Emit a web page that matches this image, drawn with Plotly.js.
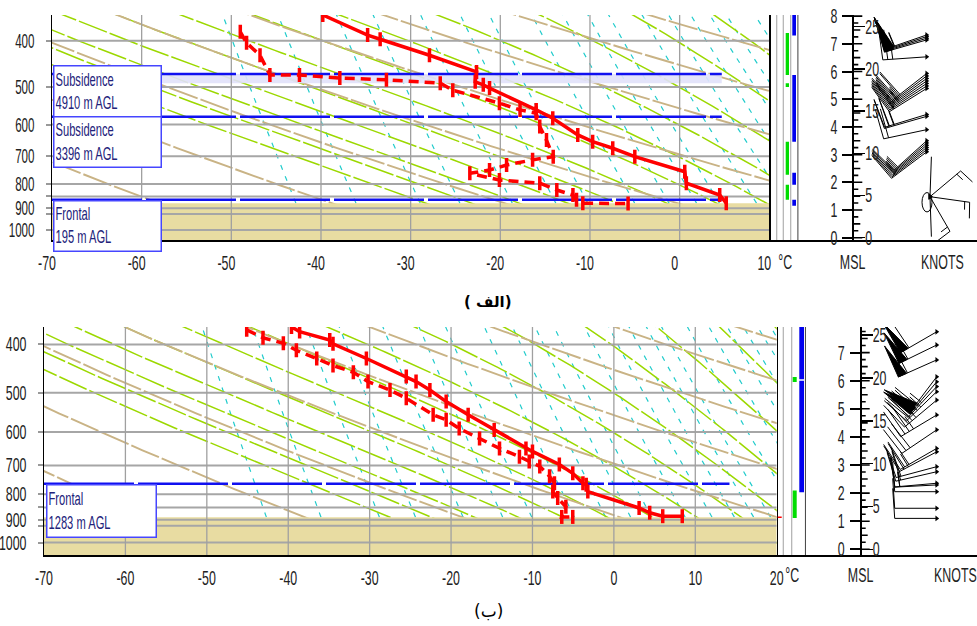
<!DOCTYPE html>
<html><head><meta charset="utf-8">
<script src="https://cdn.plot.ly/plotly-3.0.1.min.js"></script>
<style>html,body{margin:0;padding:0;background:#fff}#chart{width:977px;height:626px}</style>
</head><body><div id="chart"></div>
<script>
// ================= DATA =================
const tempTicksTop = [-70,-60,-50,-40,-30,-20,-10,0,10];
const tempTicksBot = [-70,-60,-50,-40,-30,-20,-10,0,10,20];
const pressureTicks  = [400,500,600,700,800,850,900,925,1000];
const pressureLabels = ['400','500','600','700','800','','900','','1000'];
const isobars = [400,500,600,700,800,850,900,925,1000];
const isothermsTop = [-60,-50,-40,-30,-20,-10,0];
const isothermsBot = [-60,-50,-40,-30,-20,-10,0,10];
const dryAdiabatsC = [-50,-30,-10,10,30,50,70,90,110,130];
const moistAdiabatsC = [-20,-15,-10,-5,0,5,10,15,20,25,30,35,40,45,50];
const mixingRatios = [0.1,0.2,0.4,0.6,1,1.5,2,3,4,5,6,8,10,12,14,16,20,24,28,32,36,40];
const kmTicks = [0,1,2,3,4,5,6,7,8];
const kftTicks = [0,5,10,15,20,25];

// ---- top sounding (الف) ----
const topTempP = [353,389,397,429,465,488,495,503,559,582,631,652,673,701,754,797,844,878];
const topTempC = [-39.8,-34.8,-33.4,-27.9,-22.65,-22.8,-21.9,-21.2,-16.0,-14.15,-11.36,-9.7,-7.46,-5.0,0.57,0.75,4.47,5.2];
const topDewP = [383,404,429,472,472,479,483,491,508,541,559,568,606,647,701,712,730,748,760,785,797,824,844,864,878,880];
const topDewC = [-49.0,-48.3,-46.8,-45.7,-42.4,-37.9,-32.7,-26.7,-25.3,-20.1,-17.8,-16.0,-15.6,-14.85,-14.1,-16.4,-19.3,-21.2,-23.4,-20.1,-15.6,-13.7,-11.9,-11.5,-10.8,-5.75];
const topGroundP = 878;
const topLayerTitle = ['Subsidence','Subsidence','Frontal'];
const topLayerHeight = ['4910 m AGL','3396 m AGL','195 m AGL'];
const topLayerP = [470,578,864];
const topLayerEndC = 4.7;
const topBandP = [470,491];
const topGreenBars = [[385,472],[491,500],[652,765],[803,864]];
const topBlueBars  = [[353,390],[472,652],[758,803],[864,889]];
const topWindKm  = [7.32,7.26,7.20,7.14,6.53,5.93,5.84,5.75,5.66,5.57,5.48,5.39,4.45,4.38,3.90,3.50,3.42,3.34,3.26,3.18,3.10];
const topWindDir = [251,252,253,254,266,232,233,234,235,236,237,238,253,254,258,228,229,230,231,232,233];
const topWindSpd = [55,55,50,50,25,30,30,25,25,25,20,20,25,25,20,15,15,15,15,15,15];
const topLowWindKm = 1.48;
const topLowWindDir = [2,50,98,150,178];
const topLowWindSpd = [0,15,15,15,0];

// ---- bottom sounding (ب) ----
const botTempP = [369,377,392,399,427,464,475,494,521,554,594,647,656,697,726,760,765,790,852,871,885,885];
const botTempC = [-39.6,-38.6,-34.9,-34.5,-30.4,-25.5,-24.3,-22.6,-20.6,-17.9,-14.7,-10.8,-10.0,-6.7,-5.05,-3.8,-3.4,-3.2,3.1,4.4,6.0,8.4];
const botDewP = [374,388,398,411,427,441,455,475,494,513,554,567,590,618,647,672,687,703,736,760,790,814,847,888,888];
const botDewC = [-45.1,-43.1,-40.6,-39.0,-36.5,-34.5,-32.0,-30.2,-27.5,-25.5,-22.2,-20.6,-19.0,-16.5,-14.05,-11.6,-10.4,-9.1,-7.9,-7.3,-7.5,-6.9,-5.9,-6.4,-5.05];
const botGroundP = 889;
const botLayerTitle = ['Frontal'];
const botLayerHeight = ['1283 m AGL'];
const botLayerP = [762];
const botLayerEndC = 14.2;
const botGreenBars = [[465,476],[786,892]];
const botBlueBars  = [[369,470],[473,792]];
const botWindKm  = [7.74,7.27,6.74,6.14,5.96,5.79,5.61,5.31,4.78,4.25,3.59,3.47,2.94,2.76,2.35,2.29,2.05,1.46,1.10];
const botWindDir = [240,244,246,217,220,223,226,230,239,236,240,242,255,257,265,267,270,270,270];
const botWindSpd = [60,60,55,50,50,45,45,40,35,30,25,25,20,20,15,15,10,10,10];

// ================= STYLE / GEOMETRY =================
const W=977, H=626;
const FONT = 'Liberation Sans, Arial, sans-serif';
const C_TAN='#c9b385', C_GREEN='#9cd800', C_CYAN='#22cccc', C_GRID='#a6a6a6';
const C_GROUND='#e8dca2', C_OLIVE='#808000', C_BLUE='#1010f0', C_RED='#ff0000';
const px = v => v/W, py = v => 1 - v/H;

const P1 = {x0:52, x1:769.3, y0:15, y1:240, pTop:353.0, pBot:1049.6, tMin:-70, tMax:10,
  colR:798.3, kmAx:853.3, km0:237.7, ppk:27.7, windOx:926.7, lowOx:930};
const P2 = {x0:44, x1:776.7, y0:327, y1:555, pTop:369.1, pBot:1058.9, tMin:-70, tMax:20,
  colR:805.7, kmAx:860.7, km0:549.3, ppk:28.1, windOx:936.7};

// ================= THERMO helpers =================
function pressures(){ const a=[]; for(let lp=Math.log(1120); lp>Math.log(300); lp-=0.01) a.push(Math.exp(lp)); return a; }
const PS = pressures();
function dryLine(thC){ const th=thC+273.15; return {x:PS.map(p=>th*Math.pow(p/1000,0.2857)-273.15), y:PS}; }
function moistLine(twC){
  const f=(T,p)=>{const e=6.112*Math.exp(17.67*(T-273.15)/(T-29.65)); const rs=0.622*e/(p-e);
    return (287.04*T+2.501e6*rs)/(1005.7+2.501e6*2.501e6*rs*0.622/(287.04*T*T));};
  const up=[], dn=[]; let T=twC+273.15, lp=Math.log(1000), h=-0.01;
  while(Math.exp(lp)>300){ up.push([Math.exp(lp),T]); const k1=f(T,Math.exp(lp)); const k2=f(T+h*k1,Math.exp(lp+h)); T+=h*(k1+k2)/2; lp+=h; }
  T=twC+273.15; lp=Math.log(1000); h=0.01;
  while(Math.exp(lp)<1120){ const k1=f(T,Math.exp(lp)); const k2=f(T+h*k1,Math.exp(lp+h)); T+=h*(k1+k2)/2; lp+=h; dn.push([Math.exp(lp),T]); }
  const all = dn.reverse().concat(up);
  return {x:all.map(a=>a[1]-273.15), y:all.map(a=>a[0])};
}
function mixLine(w,pg){ const ys=[],xs=[]; for(let lp=Math.log(pg); lp>Math.log(300); lp-=0.05){ const p=Math.exp(lp); const e=w*p/(622+w); const L=Math.log(e/6.112); xs.push(243.5*L/(17.67-L)); ys.push(p);} return {x:xs,y:ys}; }
function joinLines(list){ const x=[],y=[]; list.forEach(l=>{x.push(...l.x,null); y.push(...l.y,null);}); return {x,y}; }

// ================= BUILD =================
const traces=[], shapes=[], annotations=[];
const layout = {width:W,height:H,margin:{l:0,r:0,t:0,b:0},paper_bgcolor:'#fff',plot_bgcolor:'rgba(0,0,0,0)',
  showlegend:false, font:{family:FONT,size:20,color:'#222'}};

function panel(P, ax, tempTicks, isotherms, tempP,tempC, dewP,dewC, groundP, layerP, layerEndC, greenBars, blueBars, bandP){
  const xa='x'+(ax.x===1?'':ax.x), ya='y'+(ax.y===1?'':ax.y);
  const xk='xaxis'+(ax.x===1?'':ax.x), yk='yaxis'+(ax.y===1?'':ax.y);
  const T=(o)=>Object.assign({xaxis:xa,yaxis:ya,hoverinfo:'skip',showlegend:false},o);
  traces.push(T(Object.assign(joinLines(mixingRatios.map(w=>mixLine(w,groundP))),{mode:'lines',line:{color:C_CYAN,width:1.2,dash:'5px,7px'}})));
  traces.push(T(Object.assign(joinLines(moistAdiabatsC.map(moistLine)),{mode:'lines',line:{color:C_GREEN,width:1.5,dash:'30px,3px'}})));
  traces.push(T(Object.assign(joinLines(dryAdiabatsC.map(dryLine)),{mode:'lines',line:{color:C_TAN,width:1.9,dash:'30px,3px'}})));
  if(bandP) traces.push(T({x:[P.tMin,layerEndC,layerEndC,P.tMin],y:[bandP[0],bandP[0],bandP[1],bandP[1]],mode:'lines',fill:'toself',fillcolor:'rgba(225,225,250,0.9)',line:{width:0}}));
  traces.push(T({x:[P.tMin,P.tMax,P.tMax,P.tMin],y:[groundP,groundP,1200,1200],mode:'lines',fill:'toself',fillcolor:C_GROUND,line:{width:0}}));
  const ib={x:[],y:[]}; isobars.forEach(p=>{ib.x.push(P.tMin,P.tMax,null); ib.y.push(p,p,null);});
  traces.push(T(Object.assign(ib,{mode:'lines',line:{color:C_GRID,width:2}})));
  const it={x:[],y:[]}; isotherms.forEach(t=>{it.x.push(t,t,null); it.y.push(300,1200,null);});
  traces.push(T(Object.assign(it,{mode:'lines',line:{color:'#a0a0a0',width:1.3}})));
  const ll={x:[],y:[]}; layerP.forEach(p=>{ll.x.push(P.tMin,layerEndC,null); ll.y.push(p,p,null);});
  traces.push(T(Object.assign(ll,{mode:'lines',line:{color:C_BLUE,width:2.5,dash:'90px,4px'}})));
  traces.push(T({x:dewC,y:dewP,mode:'lines+markers',line:{color:C_RED,width:3.5,dash:'10px,6px'},marker:{symbol:'line-ns-open',size:10,color:C_RED,line:{color:C_RED,width:3.5}}}));
  traces.push(T({x:tempC,y:tempP,mode:'lines+markers',line:{color:C_RED,width:3.5},marker:{symbol:'line-ns-open',size:10,color:C_RED,line:{color:C_RED,width:3.5}}}));
  shapes.push({type:'line',xref:'paper',yref:ya,x0:px(P.x0<50?0:5),x1:px(P.x1),y0:Math.log10(groundP),y1:Math.log10(groundP),line:{color:C_OLIVE,width:2}});

  layout[xk]={domain:[px(P.x0),px(P.x1)],range:[P.tMin,P.tMax],anchor:ya,tickvals:tempTicks,ticktext:tempTicks.map(String),
    showgrid:false,zeroline:false,showline:true,linecolor:'#000',linewidth:2,ticks:'',ticklabelstandoff:4,
    tickfont:{family:FONT,size:20,color:'#222'},fixedrange:true};
  layout[yk]={domain:[py(P.y1),py(P.y0)],type:'log',range:[Math.log10(P.pBot),Math.log10(P.pTop)],anchor:xa,
    tickvals:pressureTicks,ticktext:pressureLabels,ticks:'outside',ticklen:5,tickcolor:'#999',tickwidth:2,ticklabelstandoff:7,
    showgrid:false,zeroline:false,showline:true,mirror:true,linecolor:'#000',linewidth:1.5,
    tickfont:{family:FONT,size:20,color:'#222'},fixedrange:true};

  // ---- columns ----
  const xc='x'+ax.c, xck='xaxis'+ax.c;
  const colW = P.colR-P.x1;
  layout[xck]={domain:[px(P.x1),px(P.colR)],range:[0,colW],anchor:ya,visible:true,showline:true,linecolor:'#000',linewidth:2,
    showgrid:false,zeroline:false,ticks:'',showticklabels:false,fixedrange:true};
  const TC=(o)=>Object.assign({xaxis:xc,yaxis:ya,hoverinfo:'skip',showlegend:false},o);
  const gl={x:[],y:[]}; (ax.grayCols).forEach(c=>{gl.x.push(c,c,null); gl.y.push(300,1200,null);});
  traces.push(TC(Object.assign(gl,{mode:'lines',line:{color:'#b0b0b0',width:1.2}})));
  traces.push(TC({x:[colW,colW],y:[300,1200],mode:'lines',line:{color:'#000',width:1.5}}));
  const bars=(list,x0,x1,col)=>list.forEach(b=>traces.push(TC({x:[x0,x1,x1,x0],y:[b[0],b[0],b[1],b[1]],mode:'lines',fill:'toself',fillcolor:col,line:{width:0}})));
  bars(greenBars,ax.green[0],ax.green[1],'#00dd00');
  bars(blueBars,ax.blue[0],ax.blue[1],'#0000ee');

  // ---- wind panel ----
  const xw='x'+ax.w, yw='y'+ax.wy, xwk='xaxis'+ax.w, ywk='yaxis'+ax.wy;
  const wW = W-P.colR;
  const kmLo = -(P.y1-P.km0)/P.ppk, kmHi=(P.km0-P.y0)/P.ppk;
  layout[xwk]={domain:[px(P.colR),1],range:[0,wW],anchor:yw,showline:true,linecolor:'#000',linewidth:2,showgrid:false,zeroline:false,ticks:'',showticklabels:false,fixedrange:true};
  layout[ywk]={domain:[py(P.y1),py(P.y0)],range:[kmLo,kmHi],anchor:xw,showline:false,showgrid:false,zeroline:false,ticks:'',showticklabels:false,fixedrange:true};
  const kmX = P.kmAx-P.colR;
  layout['yaxis'+ax.km]={overlaying:yw,anchor:'free',position:px(P.kmAx),side:'left',range:[kmLo,kmHi],tickvals:kmTicks,
    ticks:'outside',ticklen:10,tickwidth:2,tickcolor:'#000',showline:true,linecolor:'#000',linewidth:2,showgrid:false,zeroline:false,
    tickfont:{family:FONT,size:20,color:'#222'},ticklabelstandoff:1,fixedrange:true};
  layout['yaxis'+ax.kft]={overlaying:yw,anchor:'free',position:px(P.kmAx),side:'right',range:[kmLo/0.3048,kmHi/0.3048],tickvals:kftTicks,
    ticks:'outside',ticklen:11,tickwidth:1.5,tickcolor:'#000',showline:false,showgrid:false,zeroline:false,
    tickfont:{family:FONT,size:20,color:'#222'},ticklabelstandoff:-4,fixedrange:true};
  traces.push({xaxis:xw,yaxis:'y'+ax.km,x:[kmX],y:[0],mode:'markers',marker:{opacity:0},hoverinfo:'skip'});
  traces.push({xaxis:xw,yaxis:'y'+ax.kft,x:[kmX],y:[0],mode:'markers',marker:{opacity:0},hoverinfo:'skip'});
  const TW=(o)=>Object.assign({xaxis:xw,yaxis:yw,hoverinfo:'skip',showlegend:false},o);
  const tk={x:[],y:[]};
  for(let q=0;q<=32;q++){ const km=q/4; if(km>kmHi) break; const len = q%4===0?9:(q%2===0?7:5); tk.x.push(kmX,kmX+len,null); tk.y.push(km,km,null); }
  traces.push(TW(Object.assign(tk,{mode:'lines',line:{color:'#000',width:1.6}})));
  return {TW};
}

function barbs(TW, ox, kms, dirs, spds, ppk, L, F){
  const ln={x:[],y:[]}; const ox_=[], oy_=[];
  kms.forEach((km,i)=>{
    const d=dirs[i]*Math.PI/180, sx=Math.sin(d), sy=Math.cos(d), qx=sy, qy=-sx;
    const Pt=(t,o)=>[ox+sx*t+qx*o, km+(sy*t+qy*o)/ppk];
    const a=Pt(0,0), b=Pt(L,0); ln.x.push(a[0],b[0],null); ln.y.push(a[1],b[1],null);
    ox_.push(a[0]); oy_.push(a[1]);
    let rem=Math.round(spds[i]/5)*5, pos=L;
    const nf=Math.floor(rem/50); rem-=nf*50;
    for(let k=0;k<nf;k++){ const p1=Pt(pos,0), p2=Pt(pos,F+4), p3=Pt(pos-9,0);
      traces.push(TW({x:[p1[0],p2[0],p3[0],p1[0]],y:[p1[1],p2[1],p3[1],p1[1]],mode:'lines',fill:'toself',fillcolor:'#000',line:{color:'#000',width:1}}));
      pos-=10; }
    const nfull=Math.floor(rem/10); rem-=nfull*10;
    for(let k=0;k<nfull;k++){ const p1=Pt(pos,0), p2=Pt(pos+2,F); ln.x.push(p1[0],p2[0],null); ln.y.push(p1[1],p2[1],null); pos-=5; }
    if(rem>=5){ if(nf+nfull===0) pos-=5; const p1=Pt(pos,0), p2=Pt(pos+1,F/2); ln.x.push(p1[0],p2[0],null); ln.y.push(p1[1],p2[1],null); }
  });
  traces.push(TW(Object.assign(ln,{mode:'lines',line:{color:'#000',width:1}})));
  traces.push(TW({x:ox_,y:oy_,mode:'markers',marker:{symbol:'triangle-right',size:5,color:'#000'}}));
}

// ---- top panel ----
const A1={x:1,y:1,c:3,w:4,wy:4,km:5,kft:6,grayCols:[7.4,14,21.4],green:[16.4,19.7],blue:[23,26.7]};
const r1=panel(P1,A1,tempTicksTop,isothermsTop,topTempP,topTempC,topDewP,topDewC,topGroundP,topLayerP,topLayerEndC,topGreenBars,topBlueBars,topBandP);
barbs(r1.TW, P1.windOx-P1.colR, topWindKm, topWindDir, topWindSpd, P1.ppk, 44, 30);
barbs(r1.TW, P1.lowOx-P1.colR, topLowWindDir.map(()=>topLowWindKm), topLowWindDir, topLowWindSpd, P1.ppk, 40, 16);
shapes.push({type:'circle',xref:'x4',yref:'y4',x0:P1.lowOx-P1.colR-8,x1:P1.lowOx-P1.colR+2,y0:topLowWindKm-0.55,y1:topLowWindKm+0.15,line:{color:'#000',width:1}});

// ---- bottom panel ----
const A2={x:2,y:2,c:5,w:6,wy:7,km:8,kft:9,grayCols:[6.6,15],green:[16,20],blue:[22.6,27.3]};
const r2=panel(P2,A2,tempTicksBot,isothermsBot,botTempP,botTempC,botDewP,botDewC,botGroundP,botLayerP,botLayerEndC,botGreenBars,botBlueBars,null);
barbs(r2.TW, P2.windOx-P2.colR, botWindKm, botWindDir, botWindSpd, P2.ppk, 42, 30);
traces.push({xaxis:'x5',yaxis:'y2',x:[1,5],y:[botGroundP,botGroundP],mode:'lines',line:{color:C_RED,width:1.5},hoverinfo:'skip'});

// ---- layer boxes ----
function box(x0,x1,y0,y1,title,ht){
  annotations.push({xref:'paper',yref:'paper',x:px(x0),y:py(y0),xanchor:'left',yanchor:'top',align:'left',valign:'middle',
    width:x1-x0-3.5,height:y1-y0-3.5,borderpad:1,borderwidth:1.5,bordercolor:'#4646ff',bgcolor:'#fff',showarrow:false,
    text:title+'<br>'+ht,font:{family:FONT,size:18,color:'#22227a'}});
}
box(53,160,65,116,topLayerTitle[0],topLayerHeight[0]);
box(53,160,116,166.7,topLayerTitle[1],topLayerHeight[1]);
box(53,160,200,250,topLayerTitle[2],topLayerHeight[2]);
box(46,155,484.3,536.7,botLayerTitle[0],botLayerHeight[0]);

// ---- labels ----
function lab(x,y,t,extra){ annotations.push(Object.assign({xref:'paper',yref:'paper',x:px(x),y:py(y),xanchor:'center',yanchor:'middle',showarrow:false,text:t,font:{family:FONT,size:20,color:'#222'}},extra||{})); }
lab(785,262,'°C'); lab(852,262,'MSL'); lab(942,262,'KNOTS');
lab(792,575,'°C'); lab(860,575,'MSL'); lab(955,575,'KNOTS');
lab(488,302,'<b>( الف)</b>',{font:{family:'DejaVu Sans, sans-serif',size:15,color:'#000'}});
lab(488,611,'(ب)',{font:{family:'DejaVu Sans, sans-serif',size:17,color:'#000'}});

layout.shapes=shapes; layout.annotations=annotations;

// condensed lettering of the original (horizontally narrowed text)
function condense(gd){
  gd.querySelectorAll('svg text').forEach(t=>{
    if(/[\u0600-\u06FF]/.test(t.textContent)) return;
    const isY = !!t.closest('.ytick');
    const f = isY ? 0.58 : 0.62;
    const x=parseFloat(t.getAttribute('x'))||0;
    const dx = t.closest('.xtick') ? -5 : 0;
    const tr=t.getAttribute('transform')||'';
    t.setAttribute('transform', tr+' translate('+(x+dx)+',0) scale('+f+',1) translate('+(-x)+',0)');
  });
}
Plotly.newPlot('chart',traces,layout,{staticPlot:true,responsive:false}).then(gd=>condense(gd));
</script></body></html>
